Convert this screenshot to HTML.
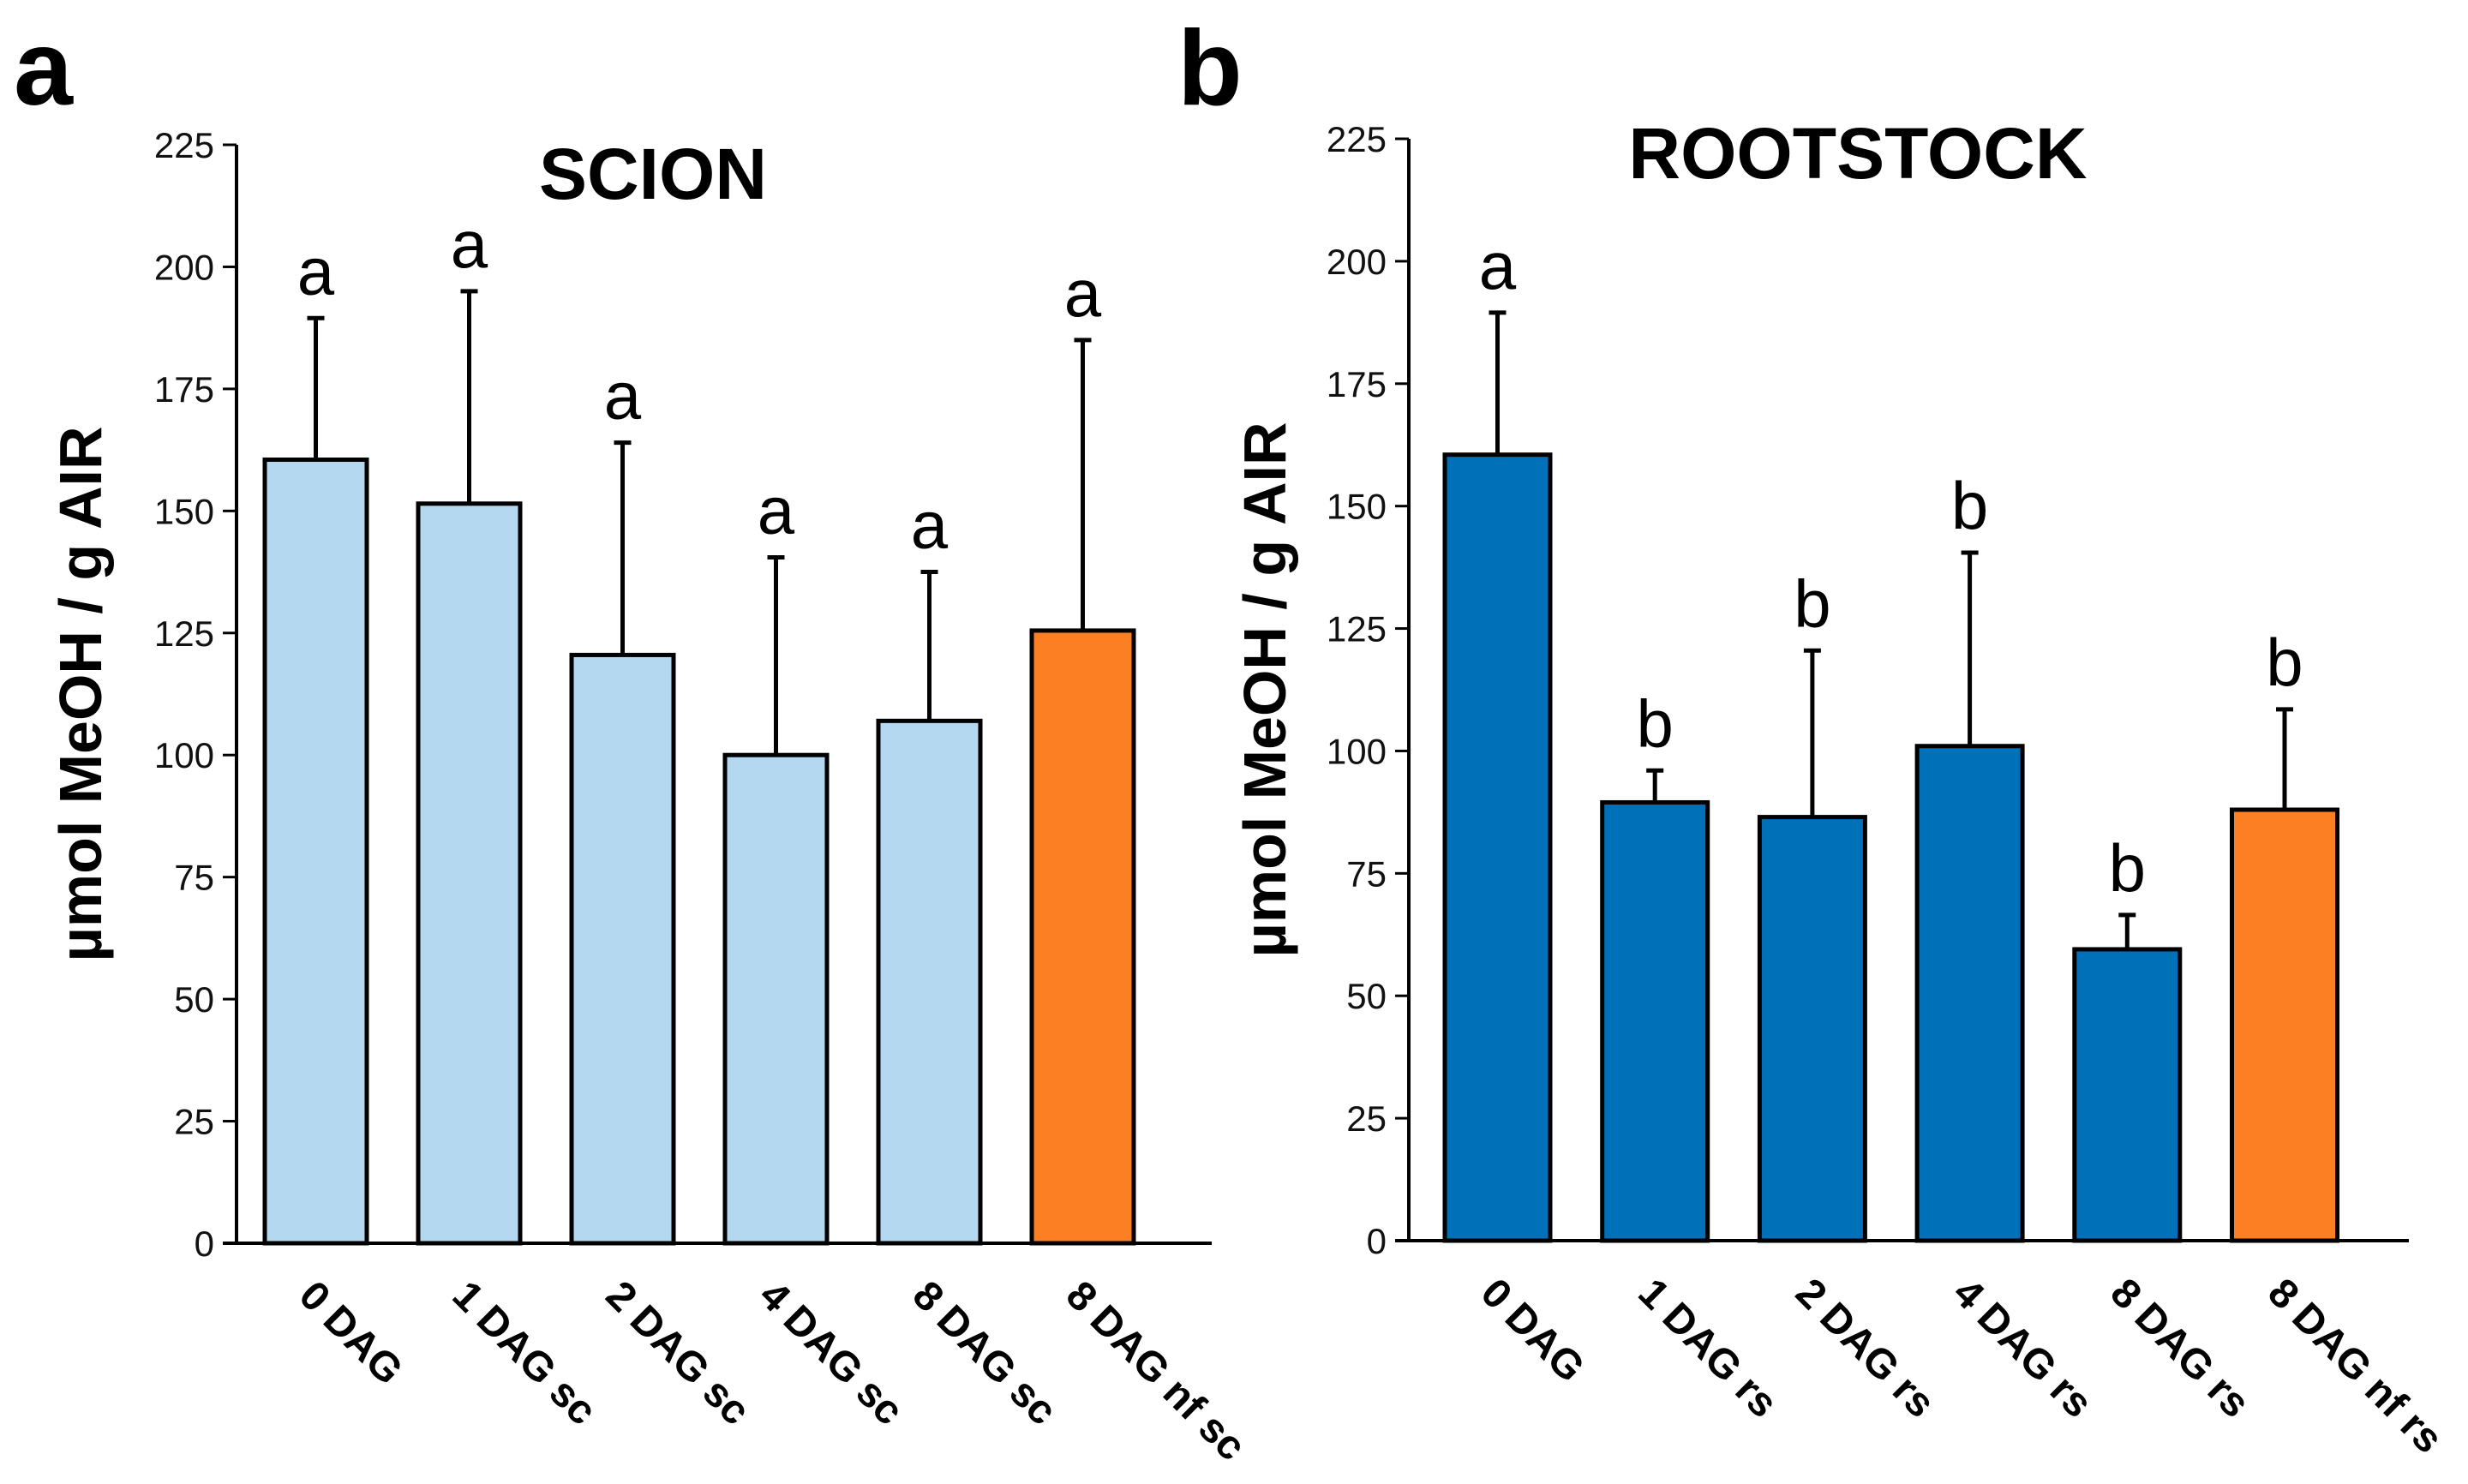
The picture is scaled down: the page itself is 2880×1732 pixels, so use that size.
<!DOCTYPE html>
<html><head><meta charset="utf-8"><style>
html,body{margin:0;padding:0;background:#fff;}
svg{display:block;font-family:"Liberation Sans",Arial,sans-serif;}
</style></head><body>
<svg id="fig" width="2880" height="1732" viewBox="0 0 2880 1732" xmlns="http://www.w3.org/2000/svg">
<text x="16" y="122" font-size="124" font-weight="bold">a</text>
<text x="1374" y="122" font-size="124" font-weight="bold">b</text>
</svg>
<script>
const ticks = [0,25,50,75,100,125,150,175,200,225];
const catsA = ["0 DAG","1 DAG sc","2 DAG sc","4 DAG sc","8 DAG sc","8 DAG nf sc"];
const valsA = [160.5,151.5,120.5,100,107,125.5];
const errTopA = [189.5,195,164,140.5,137.5,185];
const lettersA = ["a","a","a","a","a","a"];
const catsB = ["0 DAG","1 DAG rs","2 DAG rs","4 DAG rs","8 DAG rs","8 DAG nf rs"];
const valsB = [160.5,89.5,86.5,101,59.5,88];
const errTopB = [189.5,96,120.5,140.5,66.5,108.5];
const lettersB = ["a","b","b","b","b","b"];

const NS="http://www.w3.org/2000/svg";
const svg=document.getElementById('fig');
function mk(tag,attrs,parent){const e=document.createElementNS(NS,tag);for(const k in attrs)e.setAttribute(k,attrs[k]);(parent||svg).appendChild(e);return e;}

function panel(cfg){
  const g=mk('g',{});
  
  
  const y=v=>cfg.y0-(v/225)*(cfg.y0-cfg.y225);
  const x=i=>cfg.barStart+i*cfg.step;
  const t=mk('text',{x:cfg.titleX,y:cfg.titleY,'font-size':84,'font-weight':'bold','text-anchor':'middle'},g);
  t.textContent=cfg.title;
  
  
  const yt=mk('text',{x:0,y:0,'font-size':70,'font-weight':'bold','text-anchor':'middle',transform:`translate(${cfg.yTitleX},${(cfg.y0+cfg.y225)/2}) rotate(-90)`},g);
  yt.textContent='µmol MeOH / g AIR';
  
  
  ticks.forEach(v=>{
    const tl=mk('line',{x1:cfg.axisX-16,x2:cfg.axisX,y1:y(v),y2:y(v),stroke:'#000','stroke-width':3},g);
    
    
    const tx=mk('text',{x:cfg.axisX-26,y:y(v)+15,'font-size':42,'text-anchor':'end',fill:'#111'},g);
    tx.textContent=v;
    
    
  });
  cfg.vals.forEach((v,i)=>{
    const cx=x(i)+cfg.bw/2;
    const el=mk('line',{x1:cx,x2:cx,y1:y(cfg.err[i]),y2:y(v),stroke:'#000','stroke-width':5},g);
    
    
    const cap=mk('line',{x1:cx-10,x2:cx+10,y1:y(cfg.err[i]),y2:y(cfg.err[i]),stroke:'#000','stroke-width':5},g);
    
    
    const r=mk('rect',{x:x(i),y:y(v),width:cfg.bw,height:cfg.y0-y(v),fill:i===5?'#fd7f23':cfg.color,stroke:'#000','stroke-width':5},g);
    
    
    const lt=mk('text',{x:cx,y:y(cfg.err[i])-28,'font-size':78,'text-anchor':'middle'},g);
    lt.textContent=cfg.letters[i];
    
    
    const xl=mk('text',{x:0,y:0,'font-size':48,'font-weight':'bold',transform:`translate(${cx-22},${cfg.y0+64}) rotate(45)`},g);
    xl.textContent=cfg.cats[i];
    
    
  });
  const ya=mk('line',{x1:cfg.axisX,x2:cfg.axisX,y1:cfg.y225,y2:cfg.y0+2,stroke:'#000','stroke-width':4},g);
  
  
  const xa=mk('line',{x1:cfg.axisX-16,x2:cfg.xEnd,y1:cfg.y0,y2:cfg.y0,stroke:'#000','stroke-width':4},g);
  
  
}
panel({name:'scion-chart',title:'SCION',titleX:762,titleY:232,axisX:276,y0:1451,y225:169,barStart:309,step:179,bw:119,xEnd:1414,yTitleX:118,color:'#b4d8f0',cats:catsA,vals:valsA,err:errTopA,letters:lettersA});
panel({name:'rootstock-chart',title:'ROOTSTOCK',titleX:2168,titleY:208,axisX:1644,y0:1448,y225:162,barStart:1686,step:183.7,bw:123,xEnd:2811,yTitleX:1500,color:'#0070b8',cats:catsB,vals:valsB,err:errTopB,letters:lettersB});
</script>
</body></html>
